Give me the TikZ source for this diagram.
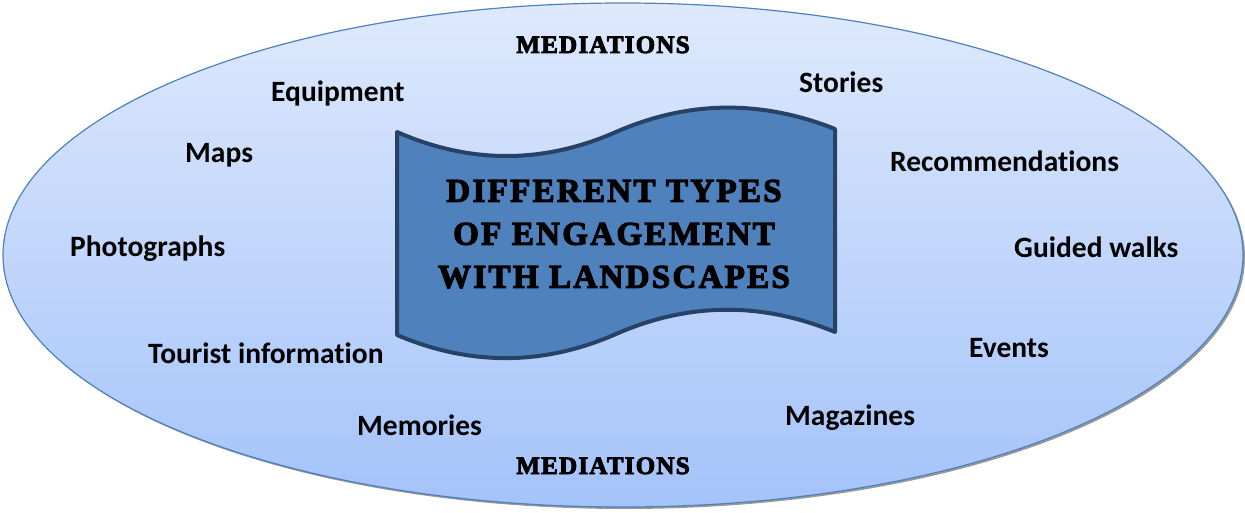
\documentclass[tikz,border=0pt]{standalone}
\usepackage{fontspec}
\setmainfont[Ligatures=NoCommon]{Carlito}
\newfontfamily\titlefont[LetterSpace=7,BoldFeatures={FakeBold=3.5}]{Liberation Serif}
\newfontfamily\medfont[LetterSpace=5,BoldFeatures={FakeBold=3.5}]{Liberation Serif}
\definecolor{ovaltop}{RGB}{222,233,252}
\definecolor{ovalbot}{RGB}{164,195,250}
\definecolor{ovalline}{RGB}{79,129,189}
\definecolor{bannerfill}{RGB}{79,129,189}
\definecolor{bannerline}{RGB}{40,66,102}
\begin{document}
\begin{tikzpicture}[x=1pt,y=-1pt,
  item/.style={anchor=base west,inner sep=0pt,font=\fontsize{29.5}{35}\selectfont\bfseries},
  med/.style={anchor=base,inner sep=0pt,font=\fontsize{25}{30}\selectfont\medfont\bfseries}]
\useasboundingbox (0,0) rectangle (1245,513);

% oval with shadow
\fill[black!40] (625,257) ellipse [x radius=620pt, y radius=252pt];
\shade[top color=ovaltop, bottom color=ovalbot, draw=ovalline, line width=1.2pt]
(623,255) ellipse [x radius=620pt, y radius=252pt];

% banner
\draw[fill=bannerfill, draw=bannerline, line width=4pt, line join=round]
(397,132) .. controls (470,164) and (543,164) .. (616,132)
          .. controls (689,100) and (762,100) .. (835,129)
-- (835,332) .. controls (762,302) and (689,302) .. (616,334)
          .. controls (543,366) and (470,366) .. (397,335) -- cycle;
\node (title) at (614,234) [align=center, inner sep=0pt,
  font=\fontsize{33}{43}\selectfont\titlefont\bfseries]
  {DIFFERENT TYPES\\OF ENGAGEMENT\\WITH LANDSCAPES};

\node (medtop) at (603,53) [med] {MEDIATIONS};
\node (medbot) at (603,474) [med] {MEDIATIONS};

\node (equip) at (271,102) [item] {Equipment};
\node (maps) at (185,163) [item] {Maps};
\node (photo) at (70,256) [item] {Photographs};
\node (tourist) at (148,363) [item] {Tourist information};
\node (memo) at (357,435) [item] {Memories};
\node (stories) at (799,93) [item] {Stories};
\node (recom) at (890,172) [item] {Recommendations};
\node (walks) at (1014,258) [item] {Guided walks};
\node (events) at (969,357) [item] {Events};
\node (maga) at (785,425) [item] {Magazines};
\end{tikzpicture}
\end{document}
